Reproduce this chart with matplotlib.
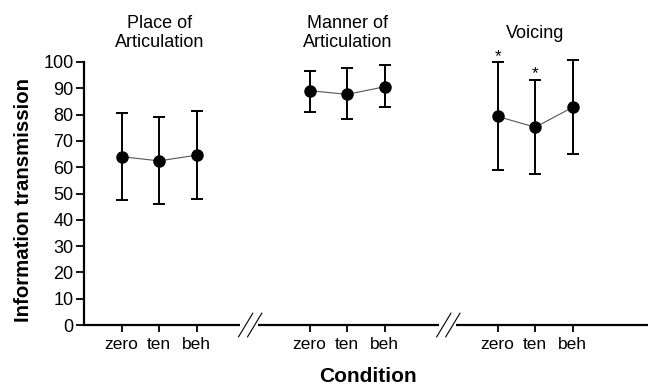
import matplotlib
matplotlib.use("Agg")
import matplotlib.pyplot as plt
import numpy as np

plt.rcParams['font.family'] = ['Liberation Sans', 'DejaVu Sans']

groups = ["Place of\nArticulation", "Manner of\nArticulation", "Voicing"]
conditions = ["zero", "ten", "beh"]
means = [[64.0, 62.4, 64.6],
         [89.1, 87.7, 90.6],
         [79.3, 75.2, 82.8]]
upper = [[80.5, 79.0, 81.4],
         [96.7, 97.9, 98.7],
         [99.9, 93.3, 100.6]]
lower = [[47.5, 45.9, 47.9],
         [81.1, 78.2, 83.0],
         [58.9, 57.3, 65.1]]
significant = [[False, False, False],
               [False, False, False],
               [True, True, False]]
yticks = list(range(0, 101, 10))

W, H = 649, 385
fig = plt.figure(figsize=(W / 100, H / 100), dpi=100)
ax = fig.add_axes([84 / W, 1 - 325 / H, (648 - 84) / W, (325 - 62) / H])

group_starts = [0, 5, 10]
xpos_all = []
for g, start in enumerate(group_starts):
    x = np.arange(3) + start
    xpos_all.extend(x)
    m = np.array(means[g]); u = np.array(upper[g]); l = np.array(lower[g])
    ax.plot(x, m, color='#555555', lw=0.8, zorder=2, clip_on=False)
    ax.errorbar(x, m, yerr=[m - l, u - m], fmt='none', ecolor='black',
                elinewidth=1.4, capsize=4.5, capthick=1.4, zorder=3, clip_on=False)
    ax.plot(x, m, 'o', color='black', ms=8, zorder=4, clip_on=False)
    for i in range(3):
        if significant[g][i]:
            ax.annotate('*', (x[i], u[i]), xytext=(0, -1), textcoords='offset points',
                        ha='center', va='bottom', fontsize=12.5, annotation_clip=False)
    ax.text(x[1], 1.11, groups[g], transform=ax.get_xaxis_transform(),
            ha='center', va='center', fontsize=13, linespacing=1.15)

ax.set_xlim(-1, 14)
ax.set_ylim(0, 100)
ax.set_yticks(yticks)
ax.set_xticks(xpos_all)
ax.set_xticklabels(conditions * 3)
ax.tick_params(axis='y', length=6, width=1.3, pad=1.5, labelsize=13)
ax.tick_params(axis='x', length=5, width=1.3, pad=3.5, labelsize=12.5)
for s in ['top', 'right', 'bottom']:
    ax.spines[s].set_visible(False)
ax.spines['left'].set_linewidth(1.6)

# broken x axis
tr = ax.get_xaxis_transform()
segs = [(-1, 3.16), (3.63, 8.43), (8.89, 14)]
for a, b in segs:
    ax.plot([a, b], [0, 0], color='black', lw=1.6, transform=tr, clip_on=False,
            solid_capstyle='butt')
for c in [3.42, 8.69]:
    for off in [-0.12, 0.12]:
        ax.plot([c + off - 0.19, c + off + 0.19], [-0.045, 0.045], color='black',
                lw=0.8, transform=tr, clip_on=False)

fig.text(24 / W, 1 - 200 / H, 'Information transmission', rotation=90,
         ha='center', va='center', fontsize=14.7, fontweight='bold')
fig.text(368 / W, 1 - 376 / H, 'Condition', ha='center', va='center',
         fontsize=15, fontweight='bold')

fig.savefig('out.png', dpi=100)
